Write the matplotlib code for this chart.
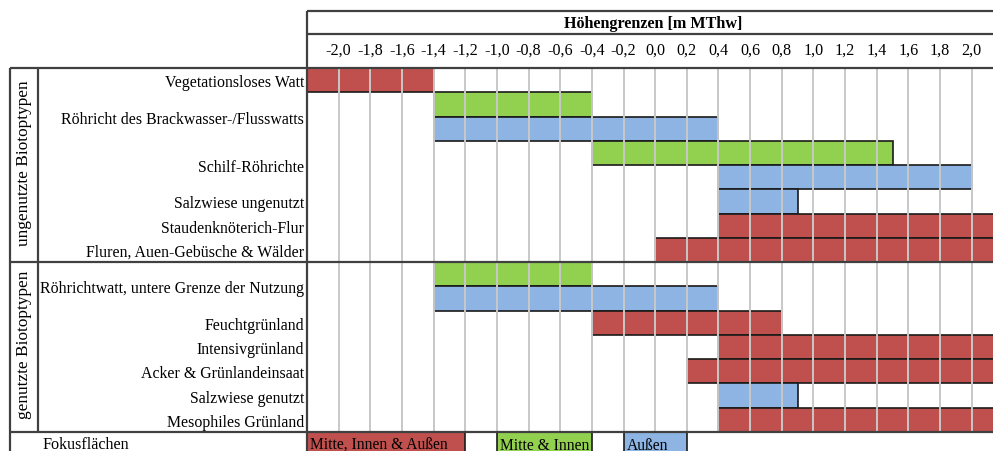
import matplotlib
matplotlib.use("Agg")
import matplotlib.pyplot as plt
import numpy as np

plt.rcParams['font.family'] = ['Liberation Serif', 'DejaVu Serif']

# ---------------- data ----------------
categories = [
    "Vegetationsloses Watt",
    "Röhricht des Brackwasser-/Flusswatts",
    "Schilf-Röhrichte",
    "Salzwiese ungenutzt",
    "Staudenknöterich-Flur",
    "Fluren, Auen-Gebüsche & Wälder",
    "Röhrichtwatt, untere Grenze der Nutzung",
    "Feuchtgrünland",
    "Intensivgrünland",
    "Acker & Grünlandeinsaat",
    "Salzwiese genutzt",
    "Mesophiles Grünland",
]
groups = ["ungenutzte Biotoptypen", "genutzte Biotoptypen"]
group_members = [[0, 1, 2, 3, 4, 5], [6, 7, 8, 9, 10, 11]]

# one entry per bar (in drawing order, top to bottom)
bar_category = [0, 1, 1, 2, 2, 3, 4, 5, 6, 6, 7, 8, 9, 10, 11]
bar_focus = [0, 1, 2, 1, 2, 2, 0, 0, 1, 2, 0, 0, 0, 2, 0]
bar_lower = [-2.2, -1.4, -1.4, -0.4, 0.4, 0.4, 0.4, 0.0, -1.4, -1.4, -0.4, 0.4, 0.2, 0.4, 0.4]
bar_upper = [-1.4, -0.4, 0.4, 1.5, 2.0, 0.9, 2.2, 2.2, -0.4, 0.4, 0.8, 2.2, 2.2, 0.9, 2.2]

focus_labels = ["Mitte, Innen & Außen", "Mitte & Innen", "Außen"]
focus_start = [-2.2, -1.0, -0.2]
focus_end = [-1.2, -0.4, 0.2]

tick_values = [round(v, 1) for v in np.arange(-2.0, 2.01, 0.2)]
tick_labels = [f"{v:.1f}".replace(".", ",").replace("-0,0", "0,0") for v in tick_values]

title = "Höhengrenzen [m MThw]"
focus_title = "Fokusflächen"

# ---------------- style ----------------
focus_colors = ["#C0504D", "#92D050", "#8DB4E2"]
edge = "#1a1a1a"
frame = "#404040"
grid_c = "#C8C8C8"
fs = 11.4

W, H = 993, 452
fig = plt.figure(figsize=(W / 100, H / 100), dpi=100)

# pixel geometry
x_left, x_right = 307, 993
y_top, y_bottom_data = 69, 433
col_px = 31.65
n_slots = len(bar_category)
slot_px = (y_bottom_data - y_top) / n_slots

ax = fig.add_axes([x_left / W, 0, (x_right - x_left) / W, (H - y_top) / H])
ax.set_xlim(-2.2, -2.2 + (x_right - x_left) / col_px * 0.2)
ax.set_ylim(n_slots + (H - y_bottom_data) / slot_px, 0)
for s in ax.spines.values():
    s.set_visible(False)

slots = np.arange(n_slots)
ax.barh(slots + 0.5, np.array(bar_upper) - np.array(bar_lower), left=bar_lower,
        height=1.0, color=[focus_colors[f] for f in bar_focus],
        edgecolor=edge, linewidth=1.2, zorder=2)

# grid lines
ax.vlines(tick_values, 0, n_slots, color=grid_c, linewidth=1.4, zorder=3)

# legend row (Fokusflächen)
ax.barh([n_slots + 0.5] * 3, np.array(focus_end) - np.array(focus_start), left=focus_start,
        height=1.0, color=focus_colors, edgecolor=edge, linewidth=1.2, zorder=2)
for lab, st in zip(focus_labels, focus_start):
    ax.text(st + 0.02, n_slots + 0.52, lab, ha='left', va='center', fontsize=11.2, zorder=5)

# x ticks on top
ax.xaxis.tick_top()
ax.set_xticks(tick_values)
ax.set_xticklabels(tick_labels, fontsize=11.6)
ax.tick_params(axis='x', length=0, pad=7.5)

# y labels: centered on the slots of each category
label_pos = []
for ci in range(len(categories)):
    idx = [i for i, c in enumerate(bar_category) if c == ci]
    label_pos.append(np.mean(idx) + 0.5)
ax.set_yticks(label_pos)
ax.set_yticklabels(categories, fontsize=fs)
ax.tick_params(axis='y', length=0, pad=2)

# ---------------- overlay for table frame ----------------
ov = fig.add_axes([0, 0, 1, 1], facecolor='none')
ov.set_xlim(0, W)
ov.set_ylim(H, 0)
ov.axis('off')
lw = 1.6
ov.hlines([12, 35], x_left, W, color=frame, linewidth=lw)
sep_y = y_top + slot_px * (max(i for i, c in enumerate(bar_category) if c in group_members[0]) + 1)
ov.hlines([y_top, sep_y, y_bottom_data], 10, W, color=frame, linewidth=lw)
ov.vlines(x_left, 12, H, color=frame, linewidth=lw)
ov.vlines(10, y_top, H, color=frame, linewidth=lw)
ov.vlines(38, y_top, y_bottom_data, color=frame, linewidth=lw)

ov.text(653, 24, title, ha='center', va='center', fontsize=11.6, fontweight='bold')
ov.text(24, 163, groups[0], rotation=90, ha='center', va='center', fontsize=12.4)
ov.text(24, 345, groups[1], rotation=90, ha='center', va='center', fontsize=12.4)
ov.text(42, 445, focus_title, ha='left', va='center', fontsize=11.6)

fig.savefig("out.png", dpi=100)
